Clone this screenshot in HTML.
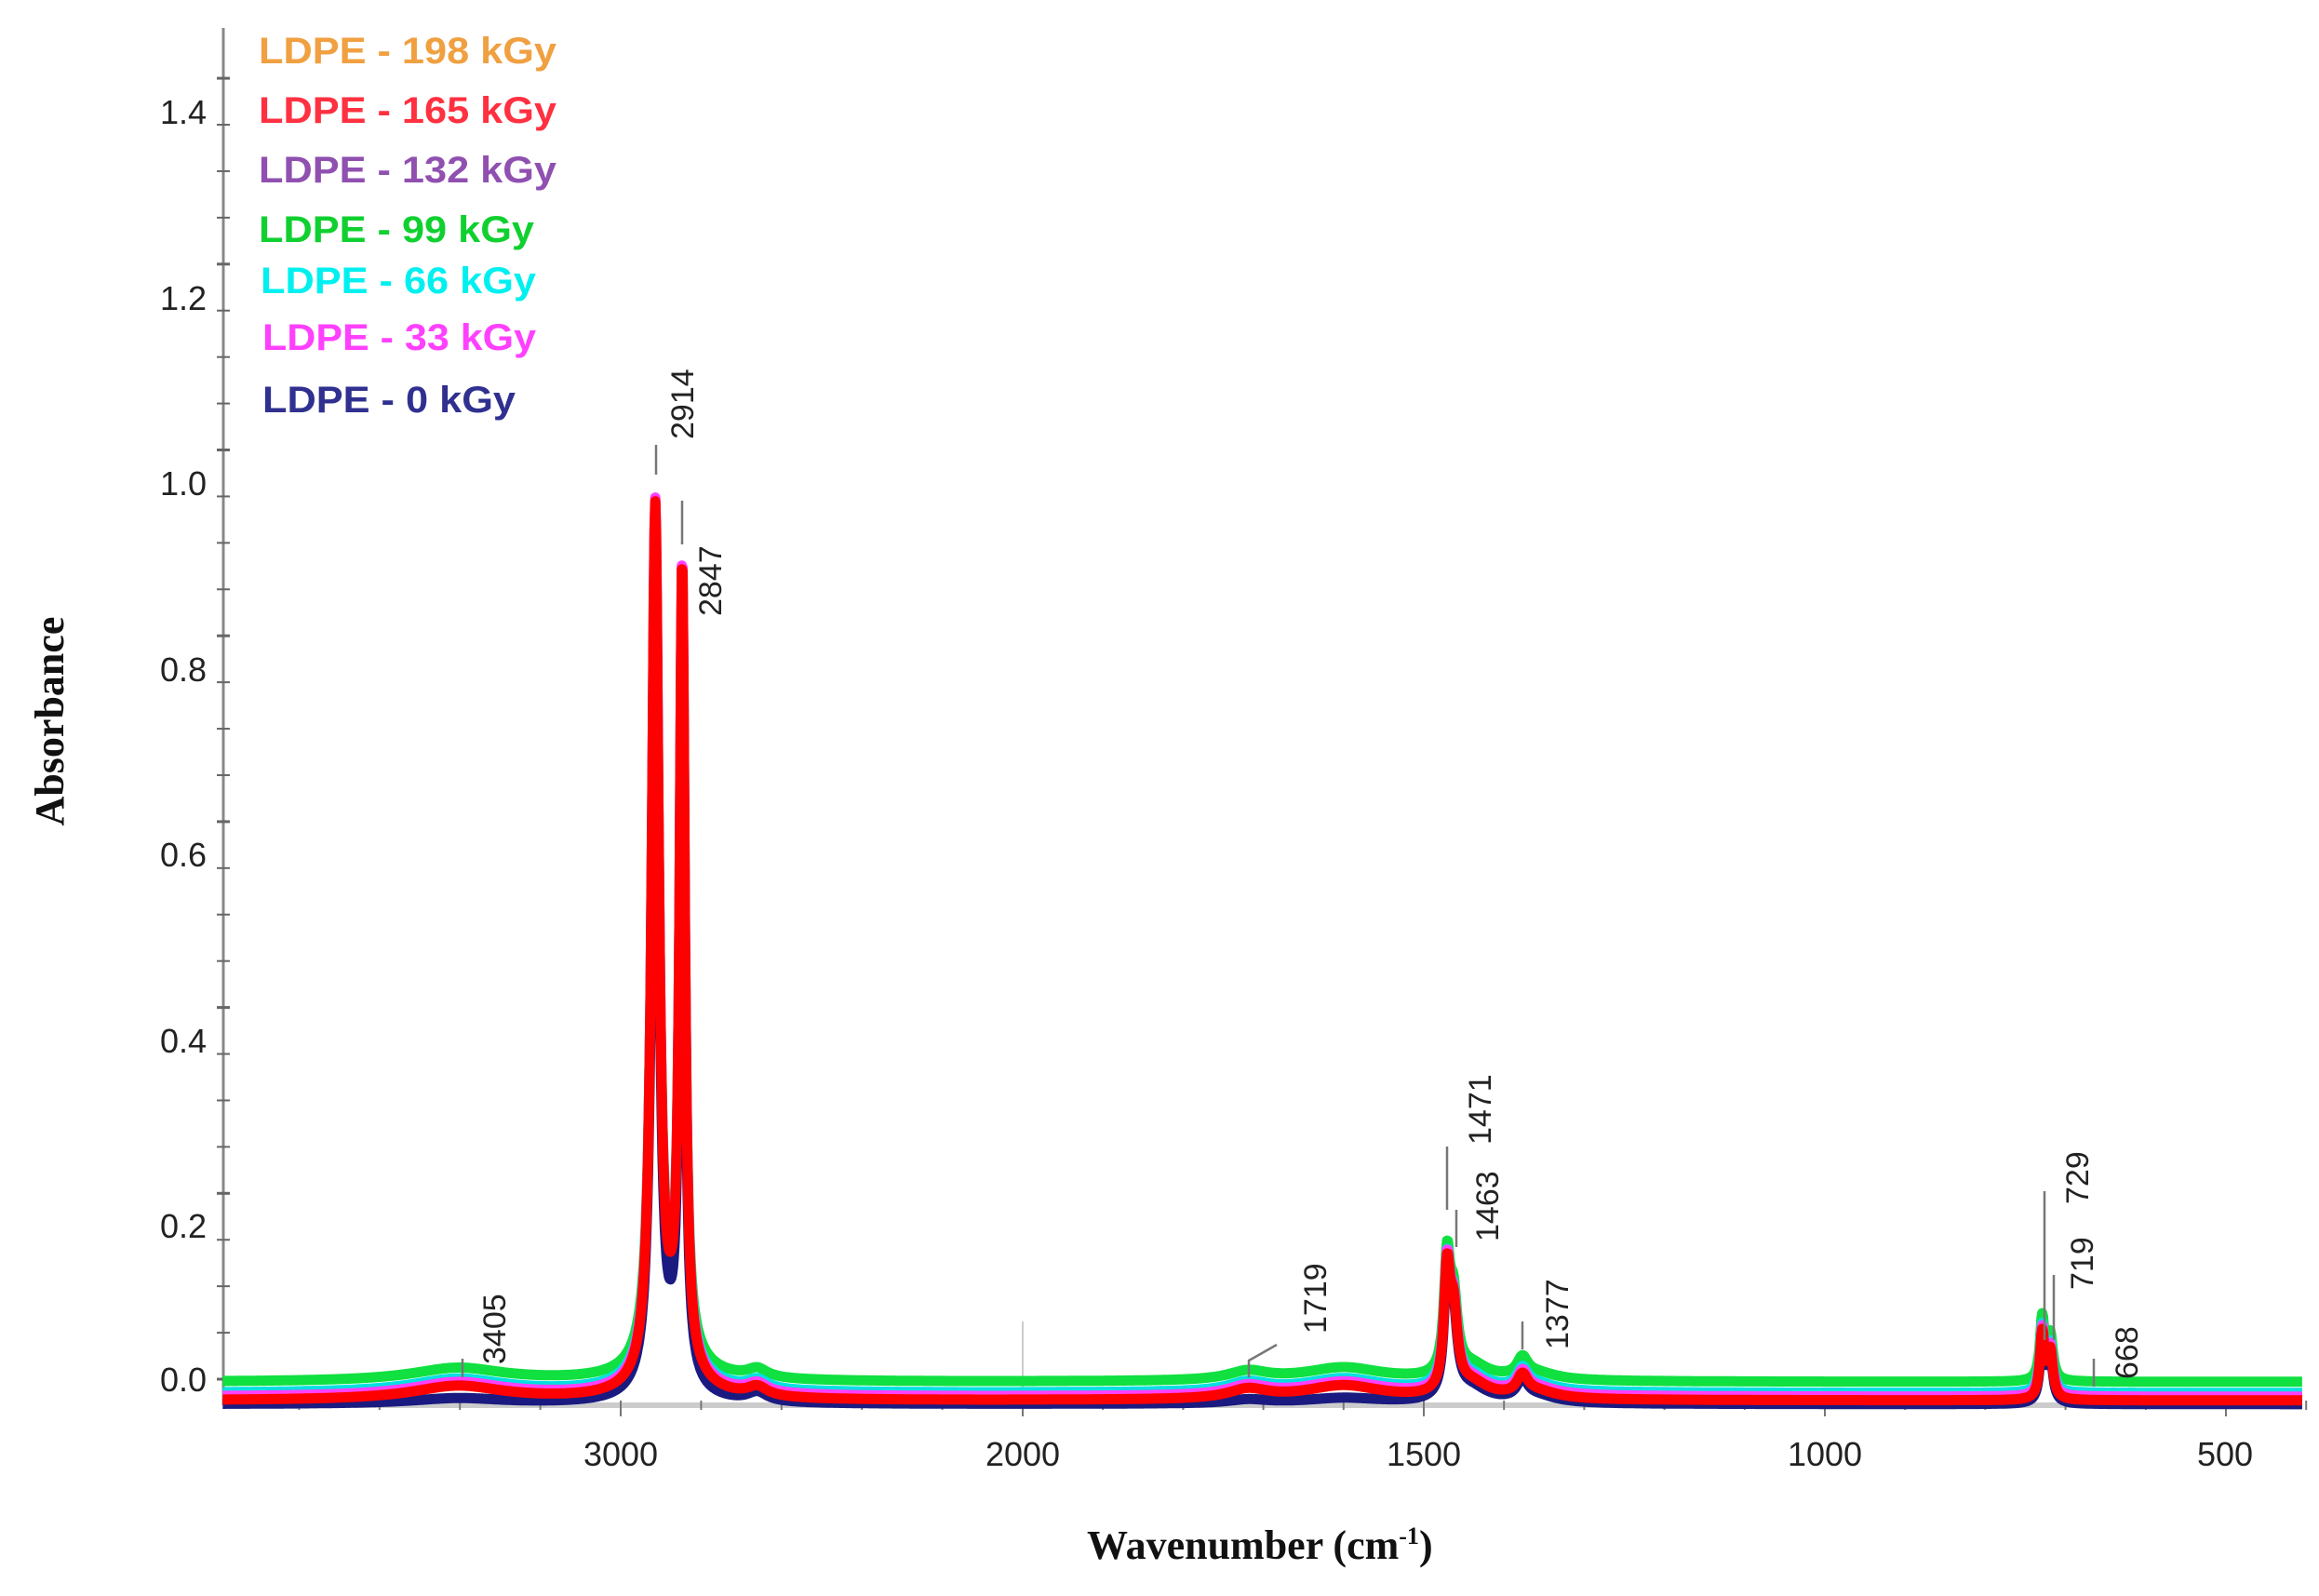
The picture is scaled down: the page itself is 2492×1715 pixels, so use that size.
<!DOCTYPE html>
<html><head><meta charset="utf-8"><style>
html,body{margin:0;padding:0;background:#fff;}
svg{display:block;}
.tk{font-family:"Liberation Sans",sans-serif;font-size:36px;fill:#222;}
.an{font-family:"Liberation Sans",sans-serif;font-size:34px;fill:#222;}
.lg{font-family:"Liberation Sans",sans-serif;font-size:40px;font-weight:bold;}
</style></head><body>
<svg id="s" width="2492" height="1715" viewBox="0 0 2492 1715" xmlns="http://www.w3.org/2000/svg">
<line x1="240" y1="30" x2="240" y2="1510" stroke="#888" stroke-width="3"/>
<line x1="240" y1="1510" x2="2472" y2="1510" stroke="#ccc" stroke-width="6"/>
<g id="ticks"></g>
<g class="tk" text-anchor="end">
<text x="222" y="133">1.4</text><text x="222" y="333">1.2</text><text x="222" y="532">1.0</text>
<text x="222" y="732">0.8</text><text x="222" y="931">0.6</text><text x="222" y="1131">0.4</text>
<text x="222" y="1330">0.2</text><text x="222" y="1495">0.0</text>
</g>
<g class="tk" text-anchor="middle">
<text x="667" y="1575">3000</text><text x="1099" y="1575">2000</text><text x="1530" y="1575">1500</text>
<text x="1961" y="1575">1000</text><text x="2391" y="1575">500</text>
</g>
<line x1="1099" y1="1420" x2="1099" y2="1510" stroke="#ccc" stroke-width="2"/>
<g id="series"></g>
<g stroke="#777" stroke-width="2.5" fill="none">
<path d="M705 510 L705 478"/><path d="M733 585 L733 538"/>
<path d="M1555 1300 L1555 1232"/><path d="M1565 1340 L1565 1300"/>
<path d="M1636 1450 L1636 1420"/><path d="M1342 1480 L1342 1462 L1372 1445"/>
<path d="M497 1480 L497 1460"/><path d="M2197 1440 L2197 1280"/><path d="M2207 1440 L2207 1370"/>
<path d="M2250 1490 L2250 1460"/>
</g>
<g class="an">
<text transform="translate(745,472) rotate(-90)">2914</text>
<text transform="translate(775,662) rotate(-90)">2847</text>
<text transform="translate(1602,1230) rotate(-90)">1471</text>
<text transform="translate(1610,1334) rotate(-90)">1463</text>
<text transform="translate(1685,1450) rotate(-90)">1377</text>
<text transform="translate(1425,1433) rotate(-90)">1719</text>
<text transform="translate(543,1466) rotate(-90)">3405</text>
<text transform="translate(2244,1294) rotate(-90)">729</text>
<text transform="translate(2249,1386) rotate(-90)">719</text>
<text transform="translate(2297,1482) rotate(-90)">668</text>
</g>
<g class="lg">
<text x="278" y="68" fill="#f0a040" textLength="320" lengthAdjust="spacingAndGlyphs">LDPE - 198 kGy</text>
<text x="278" y="132" fill="#ff3040" textLength="320" lengthAdjust="spacingAndGlyphs">LDPE - 165 kGy</text>
<text x="278" y="196" fill="#9050b0" textLength="320" lengthAdjust="spacingAndGlyphs">LDPE - 132 kGy</text>
<text x="278" y="260" fill="#10d030" textLength="296" lengthAdjust="spacingAndGlyphs">LDPE - 99 kGy</text>
<text x="280" y="315" fill="#00f0f0" textLength="296" lengthAdjust="spacingAndGlyphs">LDPE - 66 kGy</text>
<text x="282" y="376" fill="#ff40ff" textLength="294" lengthAdjust="spacingAndGlyphs">LDPE - 33 kGy</text>
<text x="282" y="443" fill="#303090" textLength="272" lengthAdjust="spacingAndGlyphs">LDPE - 0 kGy</text>
</g>
<text transform="translate(68,775) rotate(-90)" text-anchor="middle" font-family="Liberation Serif,serif" font-weight="bold" font-size="44" fill="#111">Absorbance</text>
<text x="1168" y="1675" font-family="Liberation Serif,serif" font-weight="bold" font-size="44" fill="#111">Wavenumber (cm<tspan font-size="26" dy="-16">-1</tspan><tspan dy="16">)</tspan></text>
</svg>
<script>
function X(w){return w>2000?1099+(2000-w)*0.432:1099+(2000-w)*0.862;}
function Y(a){return 1482-a*998.5;}
var t=document.getElementById("ticks"),h="";
for(var v=0;v<=1.45;v+=0.05){var y=Y(v);h+='<line x1="233" y1="'+y+'" x2="247" y2="'+y+'" stroke="#666" stroke-width="'+(Math.round(v*20)%4==0?3:2)+'"/>';}
for(var w=3900;w>=400;w-=100){var x=X(w);if(w>2000&&w%200)continue;h+='<line x1="'+x+'" y1="1505" x2="'+x+'" y2="'+(w%500==0?1522:1515)+'" stroke="#777" stroke-width="2"/>';}
t.innerHTML=h;
function L(w,c,g,a){var d=(w-c)/g;return a/(1+d*d);}
function spec(w,k){
 var a=L(w,2914,10.5,0.93)+L(w,2847,7.5,0.85)+L(w,2870,60,0.04*k)+L(w,2660,30,0.01)
 +L(w,1471,4.5,0.12)+L(w,1463,6,0.08)+L(w,1440,25,0.015)+L(w,1377,8,0.02)+L(w,1360,30,0.008)
 +L(w,729,3.5,0.07)+L(w,719,4,0.05)+L(w,3405,140,0.015*k)+L(w,1719,30,0.01*k)+L(w,1600,60,0.015*k);
 return a;}
var S=[["#10e040",0.012,1,0.96],["#00e0e0",0.0,1,0.98],["#ff40ff",-0.004,1,1.0],["#1a1a80",-0.012,0.4,0.99],["#ff0000",-0.008,1,1.0]];
var g=document.getElementById("series"),out="";
S.forEach(function(s){var p=[];for(var w=3990;w>=405;w-=(w>2000?2:1)){var a=spec(w,s[2])*s[3]+s[1]-0.015;p.push(X(w).toFixed(1)+","+Y(a).toFixed(1));}
out+='<polyline points="'+p.join(" ")+'" fill="none" stroke="'+s[0]+'" stroke-width="11" stroke-linejoin="round"/>';});
g.innerHTML=out;
</script>
</body></html>
